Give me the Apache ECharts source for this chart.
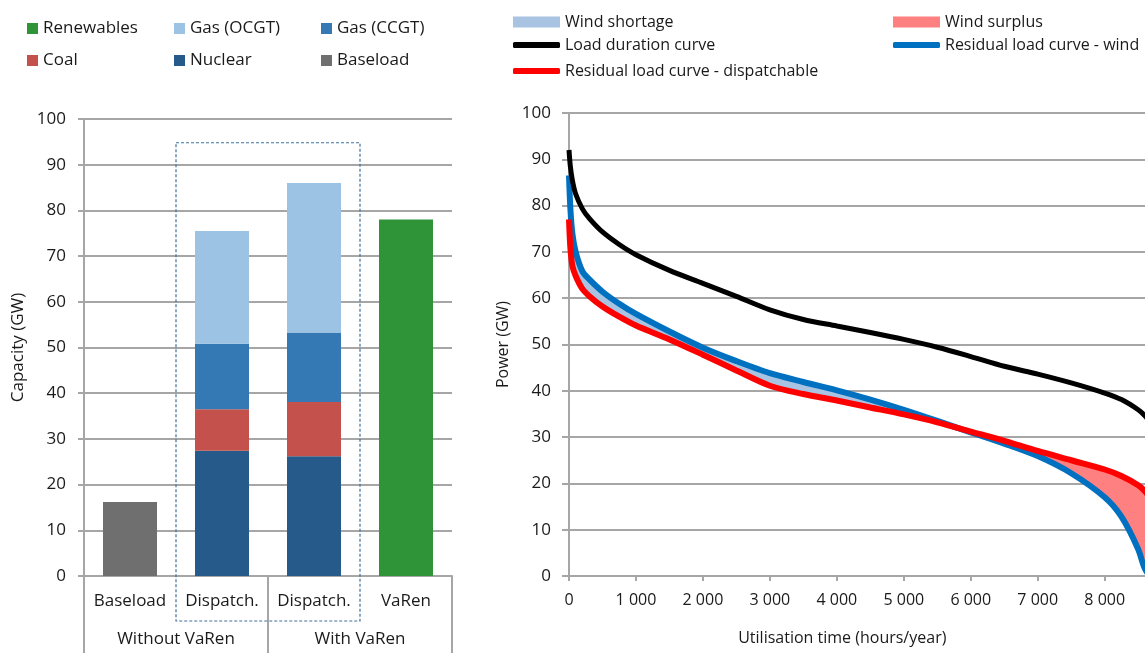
<!DOCTYPE html>
<html><head><meta charset="utf-8">
<script src="https://cdn.jsdelivr.net/npm/echarts@6/dist/echarts.min.js"></script>
<style>html,body{margin:0;padding:0;background:#fff}#c{width:1145px;height:653px}</style>
</head><body><div id="c"></div>
<script>
// ---------- Left chart data ----------
const barCategories = ['Baseload', 'Dispatch.', 'Dispatch.', 'VaRen'];
const groupCategories = ['Without VaRen', 'With VaRen'];
const baseload   = [16.2, null, null, null];
const nuclear    = [null, 27.4, 26.2, null];
const coal       = [null, 9.1, 11.9, null];
const gasCCGT    = [null, 14.3, 15.2, null];
const gasOCGT    = [null, 24.7, 32.7, null];
const renewables = [null, null, null, 78];

// ---------- Right chart data ----------
const hours            = [0, 20, 50, 100, 200, 300, 500, 750, 1000, 1500, 2000, 2500, 3000, 3500, 4000, 4500, 5000, 5500, 6000, 6500, 7000, 7500, 8000, 8250, 8500, 8600, 8700, 8760];
const loadDuration     = [92, 88.5, 85.5, 82.5, 79.3, 77.3, 74.3, 71.6, 69.4, 66, 63.2, 60.4, 57.5, 55.4, 54, 52.6, 51.1, 49.4, 47.4, 45.3, 43.6, 41.7, 39.5, 38.1, 35.9, 34.6, 32.8, 31];
const residualWind     = [86.5, 79.5, 74, 70, 65.8, 64.1, 61.4, 58.8, 56.6, 52.8, 49.3, 46.4, 43.8, 41.9, 40.1, 38.1, 35.9, 33.5, 31, 28.6, 25.9, 22.2, 17, 12.8, 5.8, 1.6, 0, 0];
const residualDispatch = [77, 71, 67, 64.8, 62, 60.5, 58.2, 56, 54.1, 51.1, 47.8, 44.4, 41.1, 39.3, 37.9, 36.4, 34.9, 33.2, 31.2, 29.2, 27, 25, 23, 21.6, 19.6, 18.3, 16.5, 15];
const hourTicks = [0, 1000, 2000, 3000, 4000, 5000, 6000, 7000, 8000];

const FONT = '"Open Sans", "Noto Sans", sans-serif';
const TXT = '#1a1a1a';
const GRID = '#a6a6a6';
const SMOOTH = 0.3;

const pair = (xs, ys) => xs.map((x, i) => [x, ys[i]]);

const colors = {
  'Renewables': '#2f9438', 'Gas (OCGT)': '#9dc3e4', 'Gas (CCGT)': '#3479b4',
  'Coal': '#c4514b', 'Nuclear': '#255a8a', 'Baseload': '#6f6f6f'
};

function barSeries(name, data) {
  return { name, type: 'bar', stack: 'cap', xAxisIndex: 0, yAxisIndex: 0, data,
    barWidth: 54, itemStyle: { color: colors[name] }, emphasis: { disabled: true } };
}

function lineSeries(name, ys, color, width, z) {
  return { name, type: 'line', xAxisIndex: 2, yAxisIndex: 1, symbol: 'none', smooth: SMOOTH,
    data: pair(hours, ys), itemStyle: { color }, lineStyle: { color, width }, z,
    emphasis: { disabled: true } };
}

// band between two curves, drawn through the axes with api.coord
function fillSeries(name, upper, lower, color) {
  const rows = hours.map((h, i) => [h, Math.max(upper[i], lower[i]), lower[i]]);
  return {
    name, type: 'custom', xAxisIndex: 2, yAxisIndex: 1, z: 1, silent: true,
    data: rows, encode: { x: 0, y: [1, 2] }, itemStyle: { color },
    renderItem: (params, api) => {
      if (params.dataIndex !== 0) return null;
      const top = rows.map(r => api.coord([r[0], r[1]]));
      const bot = rows.map(r => api.coord([r[0], r[2]])).reverse();
      const cs = params.coordSys;
      return {
        type: 'polygon',
        shape: { points: top.concat(bot), smooth: SMOOTH,
          smoothConstraint: [[cs.x, cs.y], [cs.x + cs.width, cs.y + cs.height]] },
        style: { fill: color, stroke: null }
      };
    }
  };
}

const leftLegendOrder = ['Renewables', 'Gas (OCGT)', 'Gas (CCGT)', 'Coal', 'Nuclear', 'Baseload'];
const leftLegendPos = [[27, 20], [174, 20], [321, 20], [27, 52], [174, 52], [321, 52]];
const legends = leftLegendOrder.map((n, i) => ({
  left: leftLegendPos[i][0], top: leftLegendPos[i][1], padding: 0, data: [n], icon: 'rect',
  itemWidth: 11, itemHeight: 11, selectedMode: false,
  textStyle: { fontFamily: FONT, fontSize: 17, color: TXT }
}));
const rightLegends = [
  { name: 'Wind shortage', pos: [513, 14], icon: 'rect', h: 11, color: '#a9c4e2' },
  { name: 'Wind surplus', pos: [893, 14], icon: 'rect', h: 11, color: '#ff8080' },
  { name: 'Load duration curve', pos: [513, 37], icon: 'roundRect', h: 6, color: '#000000' },
  { name: 'Residual load curve - wind', pos: [893, 37], icon: 'roundRect', h: 6, color: '#0070c0' },
  { name: 'Residual load curve - dispatchable', pos: [513, 63], icon: 'roundRect', h: 6, color: '#ff0000' }
];
rightLegends.forEach(l => legends.push({
  left: l.pos[0], top: l.pos[1], padding: 0, itemWidth: 47, itemHeight: l.h, selectedMode: false,
  data: [{ name: l.name, icon: l.icon, itemStyle: { color: l.color, borderWidth: 0 } }],
  textStyle: { fontFamily: FONT, fontSize: 16, color: TXT }
}));

const chart = echarts.init(document.getElementById('c'), null, { renderer: 'canvas' });

const option = {
  animation: false,
  textStyle: { fontFamily: FONT },
  legend: legends,
  grid: [
    { left: 84, top: 119, width: 368, height: 457, outerBoundsMode: 'none', containLabel: false },
    { left: 569, top: 113, width: 586.6, height: 463, outerBoundsMode: 'none', containLabel: false }
  ],
  xAxis: [
    { type: 'category', gridIndex: 0, data: barCategories, position: 'bottom',
      axisLine: { lineStyle: { color: GRID, width: 2 } }, axisTick: { show: false },
      axisLabel: { margin: 17, fontSize: 17, color: TXT, fontFamily: FONT, interval: 0 } },
    { type: 'category', gridIndex: 0, data: groupCategories, position: 'bottom',
      axisLine: { show: false },
      axisTick: { show: true, length: 78, interval: 0, lineStyle: { color: GRID, width: 2 } },
      axisLabel: { margin: 55, fontSize: 17, color: TXT, fontFamily: FONT, interval: 0 } },
    { type: 'value', gridIndex: 1, min: 0, max: 8760, interval: 1000,
      name: 'Utilisation time (hours/year)', nameLocation: 'middle', nameGap: 54,
      nameTextStyle: { fontSize: 16, color: TXT, fontFamily: FONT, padding: [0, 40, 0, 0] },
      axisLine: { lineStyle: { color: GRID, width: 2 } },
      axisTick: { show: true, length: 5, lineStyle: { color: GRID, width: 2 }, customValues: hourTicks },
      splitLine: { show: false },
      axisLabel: { margin: 16, fontSize: 16, color: TXT, fontFamily: FONT,
        customValues: hourTicks,
        formatter: v => String(v).replace(/\B(?=(\d{3})+(?!\d))/g, ' ') } }
  ],
  yAxis: [
    { type: 'value', gridIndex: 0, min: 0, max: 100, interval: 10,
      name: 'Capacity (GW)', nameLocation: 'middle', nameGap: 57,
      nameTextStyle: { fontSize: 17, color: TXT, fontFamily: FONT },
      axisLine: { show: true, lineStyle: { color: GRID, width: 2 } },
      axisTick: { show: true, length: 6, lineStyle: { color: GRID, width: 2 } },
      splitLine: { lineStyle: { color: GRID, width: 2 } },
      axisLabel: { margin: 18, fontSize: 17, color: TXT, fontFamily: FONT } },
    { type: 'value', gridIndex: 1, min: 0, max: 100, interval: 10,
      name: 'Power (GW)', nameLocation: 'middle', nameGap: 57,
      nameTextStyle: { fontSize: 16, color: TXT, fontFamily: FONT },
      axisLine: { show: true, lineStyle: { color: GRID, width: 2 } },
      axisTick: { show: true, length: 7, lineStyle: { color: GRID, width: 2 } },
      splitLine: { lineStyle: { color: GRID, width: 2 } },
      axisLabel: { margin: 18, fontSize: 17, color: TXT, fontFamily: FONT } }
  ],
  series: [
    barSeries('Baseload', baseload),
    barSeries('Nuclear', nuclear),
    barSeries('Coal', coal),
    barSeries('Gas (CCGT)', gasCCGT),
    barSeries('Gas (OCGT)', gasOCGT),
    barSeries('Renewables', renewables),
    fillSeries('Wind shortage', residualWind, residualDispatch, '#a9c4e2'),
    fillSeries('Wind surplus', residualDispatch, residualWind, '#ff8080'),
    lineSeries('Residual load curve - wind', residualWind, '#0070c0', 6, 3),
    lineSeries('Residual load curve - dispatchable', residualDispatch, '#ff0000', 6, 4),
    lineSeries('Load duration curve', loadDuration, '#000000', 5, 5)
  ]
};
chart.setOption(option);

// dashed box around the two "Dispatch." columns, computed from the axes
const c1 = chart.convertToPixel({ xAxisIndex: 0 }, 1);
const c2 = chart.convertToPixel({ xAxisIndex: 0 }, 2);
const band = c2 - c1;
const yTop = chart.convertToPixel({ yAxisIndex: 0 }, 94.8);
const yZero = chart.convertToPixel({ yAxisIndex: 0 }, 0);
chart.setOption({
  graphic: [{
    type: 'rect', silent: true, z: 10,
    shape: { x: c1 - band / 2, y: yTop, width: 2 * band, height: yZero + 45 - yTop },
    style: { fill: 'none', stroke: '#41719c', lineWidth: 1.2, lineDash: [3, 2] }
  }]
});
</script>
</body></html>
